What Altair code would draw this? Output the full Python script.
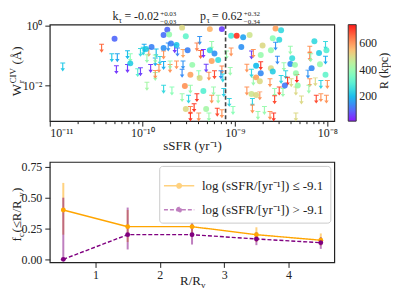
import altair as alt
import pandas as pd

FONT = "Liberation Serif"
INK = "#222222"

# ---------------- top panel data (log10 values) ----------------
det_log_ssfr = [-10.30, -10.13, -9.90, -9.96, -9.73, -9.57, -9.27, -9.14, -9.77, -9.71,
                -9.53, -9.04, -8.98, -9.69, -9.63, -9.77, -9.51, -9.27, -9.22, -9.25,
                -9.18, -9.46, -9.48, -9.38, -9.54, -9.34, -9.31, -9.53, -8.56, -8.50,
                -8.91, -8.84, -8.59, -8.52, -8.14, -8.09, -8.01, -8.93, -8.70, -8.61,
                -8.72, -8.38, -8.40, -8.77, -8.35, -8.61, -8.17, -8.08, -8.72, -8.59,
                -8.34, -8.02, -8.77, -8.73, -8.32, -8.46, -8.82, -8.77]
det_log_w = [-0.44, -1.27, -0.72, -0.79, -0.14, -0.07, -0.12, -0.12, -0.32, -0.30,
             -0.36, -0.34, -0.34, -0.60, -0.65, -0.75, -0.83, -0.83, -0.94, -1.19,
             -1.16, -1.32, -1.65, -1.76, -2.03, -2.20, -2.80, -2.80, -0.10, -0.16,
             -0.39, -0.32, -0.43, -0.48, -0.53, -0.92, -0.83, -0.72, -0.67, -0.83,
             -0.99, -1.10, -1.29, -1.35, -1.32, -1.43, -1.43, -1.30, -1.60, -1.54,
             -1.60, -1.65, -1.74, -1.87, -2.01, -2.01, -2.30, -2.33]
det_r_kpc = [100, 230, 130, 220, 100, 500, 560, 60, 110, 400,
             320, 280, 700, 130, 220, 150, 130, 250, 150, 580,
             260, 400, 580, 500, 600, 300, 420, 500, 580, 250,
             170, 480, 380, 250, 250, 230, 300, 150, 500, 400,
             400, 260, 140, 200, 400, 500, 140, 400, 140, 230,
             400, 320, 580, 500, 400, 120, 480, 500]

lim_log_ssfr = [-10.44, -10.86, -10.33, -10.27, -10.28, -10.16, -10.16, -10.13, -10.05, -10.02,
                -10.02, -9.98, -9.99, -9.93, -9.91, -9.82, -9.86, -9.81, -9.70, -9.86,
                -9.95, -9.95, -9.86, -9.85, -9.72, -9.38, -9.41, -9.25, -9.65, -9.62,
                -9.56, -9.37, -9.34, -9.04, -9.09, -9.77, -9.86, -9.70, -9.63, -9.56,
                -9.77, -9.31, -9.14, -9.57, -9.39, -9.28, -9.22, -9.15, -9.13, -9.77,
                -9.68, -9.48, -9.23, -9.12, -9.41, -9.25, -9.18, -9.57, -9.50, -9.44,
                -9.48, -9.48, -9.39, -9.28, -9.19, -9.14, -9.02, -9.06, -9.05, -8.56,
                -8.40, -8.19, -8.02, -8.82, -8.80, -8.54, -8.19, -8.18, -8.02, -8.72,
                -8.87, -8.82, -8.47, -8.45, -8.21, -8.80, -8.62, -8.50, -8.43, -8.33,
                -8.39, -8.19, -8.13, -8.07, -8.00, -8.87, -8.73, -8.57, -8.52, -8.48,
                -8.34, -8.20, -8.07, -8.12, -8.01, -8.57, -8.28, -8.81, -8.81, -8.68,
                -8.62, -8.58, -8.75, -8.34]
lim_log_w = [-0.76, -1.39, -1.08, -1.08, -1.48, -0.98, -1.44, -1.08, -1.58, -1.55,
             -0.90, -0.76, -0.86, -0.90, -1.44, -1.44, -1.22, -1.17, -1.44, -1.71,
             -2.04, -1.11, -1.64, -0.92, -0.72, -0.50, -0.72, -0.67, -0.78, -0.89,
             -0.94, -0.97, -0.94, -0.89, -0.99, -0.99, -1.12, -1.32, -1.32, -1.32,
             -1.34, -1.43, -1.49, -1.60, -1.65, -1.70, -1.65, -1.65, -1.76, -2.14,
             -2.20, -2.14, -2.20, -2.25, -2.42, -2.47, -2.47, -2.42, -2.47, -2.76,
             -2.85, -3.07, -3.07, -3.07, -2.91, -2.96, -2.85, -2.58, -1.54, -0.69,
             -0.83, -0.83, -0.67, -0.99, -0.94, -1.16, -1.05, -1.08, -1.16, -1.35,
             -1.43, -1.60, -1.38, -1.65, -1.63, -1.87, -1.92, -1.81, -1.87, -1.78,
             -1.92, -1.92, -1.89, -1.98, -1.98, -2.20, -2.36, -2.25, -2.20, -2.25,
             -2.20, -2.14, -2.42, -2.47, -2.47, -2.49, -2.50, -2.58, -2.80, -2.85,
             -3.02, -3.07, -3.02, -3.07]
lim_r_kpc = [650, 220, 220, 170, 50, 200, 50, 380, 300, 60,
             250, 180, 240, 600, 50, 600, 180, 240, 600, 400,
             420, 400, 600, 200, 150, 150, 620, 400, 50, 130,
             580, 650, 40, 600, 400, 600, 400, 400, 600, 150,
             180, 60, 620, 140, 380, 600, 680, 150, 240, 250,
             380, 400, 400, 230, 700, 600, 400, 400, 240, 700,
             620, 700, 600, 400, 680, 600, 380, 240, 400, 150,
             400, 600, 250, 60, 600, 140, 620, 400, 180, 700,
             600, 240, 400, 240, 150, 400, 600, 240, 700, 720,
             500, 600, 500, 240, 600, 600, 600, 400, 680, 400,
             500, 400, 600, 680, 600, 680, 500, 240, 600, 400,
             600, 700, 400, 500]

log_ssfr_cut = -9.1

# ---------------- bottom panel data ----------------
r_over_rv = [0.5, 1.5, 2.5, 3.5, 4.5]
fc_low = [0.40, 0.265, 0.265, 0.20, 0.155]
fc_low_lo = [0.20, 0.14, 0.18, 0.14, 0.11]
fc_low_hi = [0.62, 0.40, 0.36, 0.26, 0.21]
fc_high = [0.0, 0.20, 0.20, 0.165, 0.135]
fc_high_lo = [0.0, 0.08, 0.12, 0.115, 0.085]
fc_high_hi = [0.50, 0.42, 0.30, 0.22, 0.18]
series_labels = ["log (sSFR/[yr\u207b\u00b9]) \u2264 -9.1", "log (sSFR/[yr\u207b\u00b9]) > -9.1"]
series_colors = ["#ffa500", "#800080"]

x_major = [1e-11, 1e-10, 1e-9, 1e-8]
x_major_labels = ["10\u207b\u00b9\u00b9", "10\u207b\u00b9\u2070", "10\u207b\u2079", "10\u207b\u2078"]
y_major = [1.0, 0.01]
y_major_labels = ["10\u2070", "10\u207b\u00b2"]

RAINBOW = ["#8000ff", "#4062fa", "#00b4ec", "#40ecd4", "#80ffb4",
           "#c0ec8e", "#ffb462", "#ff6232", "#ff0000"]
R_MIN, R_MAX = 15, 735

# ---------------- frames ----------------
det_df = pd.DataFrame({"ssfr": [10 ** v for v in det_log_ssfr],
                       "w": [10 ** v for v in det_log_w], "R": det_r_kpc})
lim_df = pd.DataFrame({"ssfr": [10 ** v for v in lim_log_ssfr],
                       "w": [10 ** v for v in lim_log_w], "R": lim_r_kpc})
cut_df = pd.DataFrame({"ssfr": [10 ** log_ssfr_cut]})

rows = []
for lab, f, lo, hi in [(series_labels[0], fc_low, fc_low_lo, fc_low_hi),
                       (series_labels[1], fc_high, fc_high_lo, fc_high_hi)]:
    for r, a, b, c in zip(r_over_rv, f, lo, hi):
        rows.append({"r": r, "f": a, "lo": b, "hi": c, "s": lab})
bot_df = pd.DataFrame(rows)

ONE = pd.DataFrame({"k": [0]})


def txt(s, x, y, size=13, angle=0, align="left", baseline="alphabetic"):
    return alt.Chart(ONE).mark_text(text=s, font=FONT, fontSize=size, angle=angle,
                                    align=align, baseline=baseline, color=INK).encode(
        x=alt.value(x), y=alt.value(y))


# ---------------- top panel ----------------
W1, H1 = 286, 97
x_minor = [k * 10 ** e for e in (-11, -10, -9) for k in range(2, 10)]
dec = "abs(log(datum.value)/LN10 - round(log(datum.value)/LN10)) < 0.01"
e_expr = "round(log(datum.value)/LN10)"
xlab = (f"{dec} ? ({e_expr} == -11 ? '{x_major_labels[0]}' : {e_expr} == -10 ? '{x_major_labels[1]}'"
        f" : {e_expr} == -9 ? '{x_major_labels[2]}' : '{x_major_labels[3]}') : ''")

xscale = alt.Scale(type="log", domain=[1e-11, 10 ** -7.925], nice=False)
yscale = alt.Scale(type="log", domain=[10 ** -3.21, 10 ** 0.03], nice=False)
cstops = [R_MIN + i * (R_MAX - R_MIN) / 8 for i in range(9)]
cscale = alt.Scale(domain=cstops, range=RAINBOW, interpolate="rgb")

xaxis = alt.Axis(values=x_major + x_minor, labelExpr=xlab, labelOverlap=False,
                 tickDash={"condition": {"test": dec, "value": [10, 0]}, "value": [2.5, 20]},
                 title="sSFR (yr\u207b\u00b9)", titlePadding=1, labelPadding=1)
yaxis = alt.Axis(values=y_major, labelExpr=f"datum.value > 0.5 ? '{y_major_labels[0]}' : '{y_major_labels[1]}'",
                 title=None)

clegend = alt.Legend(type="gradient", title=None, orient="right", offset=14, gradientLength=H1,
                     gradientThickness=8, values=[200, 400, 600], direction="vertical",
                     labelFont=FONT, labelFontSize=12, labelColor=INK,
                     gradientStrokeColor=INK, gradientStrokeWidth=1, labelOffset=3)

# filled outline of a down arrow with a cap (upper limit marker)
ARROW = ("M-0.55,-1H0.55V-0.78H0.13V0.3H0.5L0,1L-0.5,0.3H-0.13V-0.78H-0.55Z")

lims = alt.Chart(lim_df).mark_point(shape=ARROW, filled=True, size=80, opacity=0.9).encode(
    x=alt.X("ssfr:Q", scale=xscale, axis=xaxis),
    y=alt.Y("w:Q", scale=yscale, axis=yaxis),
    color=alt.Color("R:Q", scale=cscale, legend=clegend),
)
dets = alt.Chart(det_df).mark_circle(size=36, opacity=0.85).encode(
    x=alt.X("ssfr:Q", scale=xscale, axis=xaxis),
    y=alt.Y("w:Q", scale=yscale, axis=yaxis),
    color=alt.Color("R:Q", scale=cscale, legend=clegend),
)
cut = alt.Chart(cut_df).mark_rule(color="#444444", strokeDash=[4, 2.5], strokeWidth=1.6).encode(
    x=alt.X("ssfr:Q", scale=xscale, axis=xaxis))

top_text = [
    txt("k", 63, -4.5, 12), txt("\u03c4", 69, -2, 8.5), txt("= -0.02", 75, -4.5, 12),
    txt("+0.03", 111, -8.5, 7), txt("\u22120.03", 111, -0.5, 7),
    txt("p", 151, -4.5, 12), txt("\u03c4", 157.5, -2, 8.5), txt("= 0.62", 163, -4.5, 12),
    txt("+0.32", 195, -8.5, 7), txt("\u22120.34", 195, -0.5, 7),
    # y title  W_r^CIV (Å), rotated
    txt("W", -32.5, 72, 13, 270, "left", "middle"),
    txt("CIV", -36.5, 59, 9, 270, "left", "middle"),
    txt("r", -29, 59, 9, 270, "left", "middle"),
    txt("(\u00c5)", -32.5, 40, 13, 270, "left", "middle"),
    # colorbar title
    txt("R (kpc)", 335.5, H1 / 2 - 2, 12, 270, "center", "middle"),
]

top = alt.layer(lims, dets, cut, *top_text).properties(width=W1, height=H1)

# ---------------- bottom panel ----------------
W2, H2 = 286, 101
bx = alt.Scale(domain=[0.29, 4.71], nice=False)
by = alt.Scale(domain=[-0.025, 0.79], nice=False)
bcol = alt.Scale(domain=series_labels, range=series_colors)
bdash = alt.Scale(domain=series_labels, range=[[1, 0], [4, 2]])
bxaxis = alt.Axis(values=[1, 2, 3, 4], format="d", title=None, labelPadding=2)
byaxis = alt.Axis(values=[0, 0.25, 0.5, 0.75], format=".2f", title=None)

LEG_SYM = "M-1.15,0H1.15M-0.17,0A0.17,0.17,0,1,1,0.17,0A0.17,0.17,0,1,1,-0.17,0Z"
blegend = alt.Legend(title=None, orient="top-right", offset=4, fillColor="white",
                     strokeColor="#cccccc", cornerRadius=3, padding=6, labelFont=FONT,
                     labelFontSize=13, labelColor=INK, symbolType=LEG_SYM, symbolSize=700,
                     symbolStrokeWidth=1.5, rowPadding=3, labelOffset=9, labelLimit=400)

ebars = alt.Chart(bot_df).mark_rule(strokeWidth=2, opacity=0.5).encode(
    x=alt.X("r:Q", scale=bx, axis=bxaxis),
    y=alt.Y("lo:Q", scale=by, axis=byaxis), y2="hi:Q",
    color=alt.Color("s:N", scale=bcol, legend=blegend))
lines = alt.Chart(bot_df).mark_line(strokeWidth=1.4).encode(
    x=alt.X("r:Q", scale=bx, axis=bxaxis),
    y=alt.Y("f:Q", scale=by, axis=byaxis),
    color=alt.Color("s:N", scale=bcol, legend=blegend),
    strokeDash=alt.StrokeDash("s:N", scale=bdash, legend=blegend),
    order="r:Q")
pts = alt.Chart(bot_df).mark_circle(size=24, opacity=1).encode(
    x=alt.X("r:Q", scale=bx, axis=bxaxis),
    y=alt.Y("f:Q", scale=by, axis=byaxis),
    color=alt.Color("s:N", scale=bcol, legend=blegend))

bot_text = [
    txt("f", -32.5, 80, 13, 270, "left", "middle"),
    txt("c", -29, 75.5, 9, 270, "left", "middle"),
    txt(" (\u2264R/R", -32.5, 71, 13, 270, "left", "middle"),
    txt("v", -29, 35, 9, 270, "left", "middle"),
    txt(")", -32.5, 30.3, 13, 270, "left", "middle"),
    txt("R/R", 131, 124, 13), txt("v", 152, 126.5, 9),
]

bottom = alt.layer(ebars, lines, pts, *bot_text).properties(width=W2, height=H2)

chart = alt.vconcat(top, bottom, spacing=7).resolve_scale(
    color="independent", strokeDash="independent"
).properties(padding=0).configure_view(stroke=INK, strokeWidth=1.2).configure_axis(
    labelFont=FONT, labelFontSize=12, labelColor=INK, tickColor=INK, tickSize=5,
    tickWidth=1, domain=False, grid=False, titleFont=FONT, titleFontSize=13,
    titleFontWeight="normal", titleColor=INK, labelPadding=3
).configure_legend(labelFont=FONT, labelFontSize=13)

chart.save("out.html", embed_options={"renderer": "svg", "actions": False})
